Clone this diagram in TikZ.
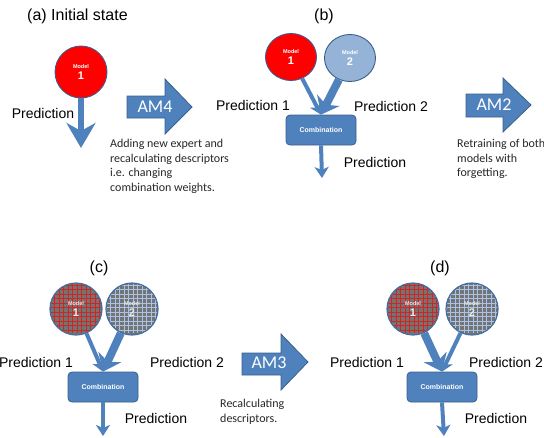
\documentclass[tikz,border=0pt]{standalone}
\usepackage{fontspec}
\setmainfont{Liberation Sans}
\newfontfamily\calib{Carlito}
\usetikzlibrary{arrows.meta,shapes.geometric}
\definecolor{abl}{HTML}{4F81BD}
\definecolor{dbl}{HTML}{3B5F8C}
\definecolor{lbl}{HTML}{95B3D7}
\definecolor{mred}{HTML}{FF0000}
\definecolor{ggray}{HTML}{747474}
\definecolor{gblue}{HTML}{A9C3E6}
\definecolor{gred}{HTML}{D42422}
\newcommand\mtop{\fontsize{5.5}{6}\selectfont\bfseries}
\newcommand\mnum{\fontsize{11}{12}\selectfont\bfseries}
\begin{document}
\begin{tikzpicture}[x=1pt,y=-1pt,
  model/.style={circle, draw=dbl, line width=0.9pt, minimum size=52pt, inner sep=0pt, align=center, text=white},
  modelb/.style={ellipse, draw=dbl, line width=0.9pt, minimum width=51pt, minimum height=47pt, inner sep=0pt, align=center, text=white},
  redm/.style={fill=mred},
  bluem/.style={fill=lbl},
  gridr/.style={fill=ggray, draw=abl!85!black, line width=1.2pt, text=white!92!black, path picture={\draw[gred, line width=0.45pt] ([shift={(-2pt,2pt)}]path picture bounding box.south west) grid[step=4.5pt] (path picture bounding box.north east);}},
  gridb/.style={fill=ggray, draw=abl!85!black, line width=1.2pt, text=white!92!black, path picture={\draw[gblue, line width=0.4pt] ([shift={(-2pt,2pt)}]path picture bounding box.south west) grid[step=4.5pt] (path picture bounding box.north east);}},
  comb/.style={rectangle, rounded corners=4pt, fill=abl, draw=dbl, line width=0.8pt, minimum width=70pt, minimum height=30pt, text=white, font=\fontsize{7}{8}\selectfont\bfseries},
  lab/.style={font=\fontsize{14}{16}\selectfont, inner sep=0pt},
  ttl/.style={font=\fontsize{16}{18}\selectfont, inner sep=0pt},
  desc/.style={font=\calib\fontsize{12}{14.5}\selectfont, align=left, inner sep=0pt, text=black!85},
  thinc/.style={draw=abl, line width=4pt, -{Stealth[length=11pt, width=13pt, inset=3pt]}},
  thickc/.style={draw=abl, line width=8pt, -{Stealth[length=16pt, width=25pt, inset=5pt]}},
  downc/.style={draw=abl, line width=4pt, -{Stealth[length=11pt, width=14pt, inset=3pt]}},
  bigc/.style={draw=abl, line width=6pt, -{Stealth[length=25pt, width=29pt, inset=8pt]}},
  amarrow/.style={fill=abl, draw=dbl, line width=0.8pt, line join=miter},
  amtext/.style={text=white, font=\calib\fontsize{18}{20}\selectfont, inner sep=0pt}
]
\useasboundingbox (0,0) rectangle (544,437);

% ---------- (a)
\node[ttl, anchor=west] (ta) at (27,16) {(a) Initial state};
\node[model, redm] (m1a) at (81,72) {{\mtop Model}\\[-1pt]{\mnum 1}};
\coordinate (pa) at (81,148);
\draw[bigc] (m1a) -- (pa);
\node[lab] (la) at (43,113) {Prediction};
\path[amarrow] (127,96) -- (165,96) -- (165,79) -- (192,107) -- (165,134) -- (165,118) -- (127,118) -- cycle;
\node[amtext] (am4) at (155,107) {AM4};
\node[desc, anchor=north west] (da) at (110,139) {Adding new expert and\\recalculating descriptors\\i.e. changing\\combination weights.};

% ---------- (b)
\node[ttl] (tb) at (324,16) {(b)};
\node[modelb, redm] (m1b) at (291,57) {{\mtop Model}\\[-1pt]{\mnum 1}};
\node[modelb, bluem] (m2b) at (350,58) {{\mtop Model}\\[-1pt]{\mnum 2}};
\node[comb] (cb) at (321,130) {Combination};
\draw[thinc] (m1b) -- (cb.north);
\draw[thickc] (m2b) -- (cb.north);
\coordinate (pb) at (322,178);
\draw[downc] (cb.south) -- (pb);
\node[lab] (lb1) at (253,105) {Prediction 1};
\node[lab] (lb2) at (391,106) {Prediction 2};
\node[lab] (lb) at (375,162) {Prediction};
\path[amarrow] (466,94) -- (503,94) -- (503,78) -- (531,105) -- (503,132) -- (503,117) -- (466,117) -- cycle;
\node[amtext] (am2) at (494,105) {AM2};
\node[desc, anchor=north west] (db) at (457,139) {Retraining of both\\models with\\forgetting.};

% ---------- (c)
\node[ttl] (tc) at (99,268) {(c)};
\node[model, gridr] (m1c) at (76,309) {{\mtop Model}\\[-1pt]{\mnum 1}};
\node[model, gridb] (m2c) at (132,309) {{\mtop Model}\\[-1pt]{\mnum 2}};
\node[comb] (cc) at (103,387) {Combination};
\draw[thinc] (m1c) -- (cc.north);
\draw[thickc] (m2c) -- (cc.north);
\coordinate (pc) at (103,436);
\draw[downc] (cc.south) -- (pc);
\node[lab] (lc1) at (36,362) {Prediction 1};
\node[lab] (lc2) at (187,362) {Prediction 2};
\node[lab] (lc) at (156,418) {Prediction};
\path[amarrow] (242,353) -- (281,353) -- (281,334) -- (308,362) -- (281,390) -- (281,375) -- (242,375) -- cycle;
\node[amtext] (am3) at (269,363) {AM3};
\node[desc, anchor=north west] (dc) at (220,399) {Recalculating\\descriptors.};

% ---------- (d)
\node[ttl] (td) at (440,268) {(d)};
\node[model, gridr] (m1d) at (413,309) {{\mtop Model}\\[-1pt]{\mnum 1}};
\node[model, gridb] (m2d) at (472,309) {{\mtop Model}\\[-1pt]{\mnum 2}};
\node[comb] (cd) at (442,387) {Combination};
\draw[thickc] (m1d) -- (cd.north);
\draw[thinc] (m2d) -- (cd.north);
\coordinate (pd) at (444,436);
\draw[downc] (cd.south) -- (pd);
\node[lab] (ld1) at (367,362) {Prediction 1};
\node[lab] (ld2) at (506,362) {Prediction 2};
\node[lab] (ld) at (496,418) {Prediction};
\end{tikzpicture}
\end{document}
